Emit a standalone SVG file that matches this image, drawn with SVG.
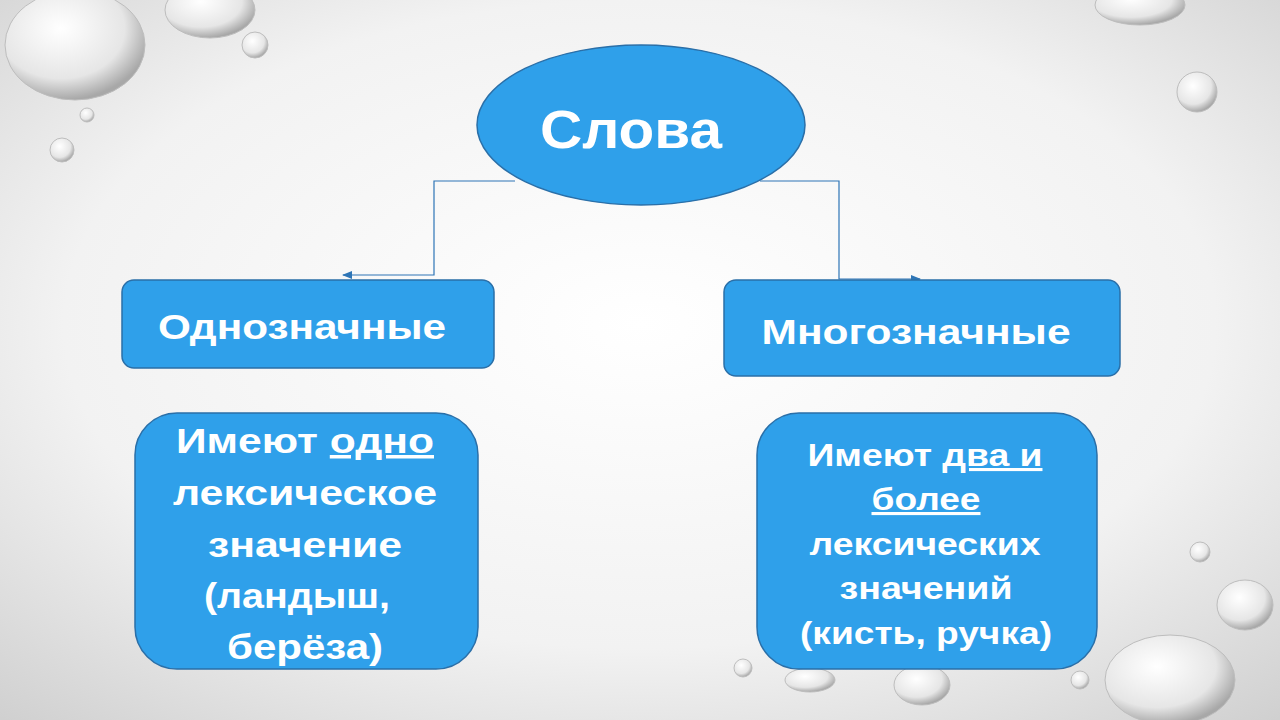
<svg xmlns="http://www.w3.org/2000/svg" width="1280" height="720" viewBox="0 0 1280 720">
<defs>
<radialGradient id="bg" cx="50%" cy="45%" r="75%"><stop offset="0" stop-color="#ffffff"/><stop offset="0.6" stop-color="#f2f2f2"/><stop offset="1" stop-color="#cfcfcf"/></radialGradient>
<radialGradient id="drop" cx="40%" cy="35%" r="65%"><stop offset="0" stop-color="#ffffff"/><stop offset="0.7" stop-color="#e6e6e6"/><stop offset="1" stop-color="#a8a8a8"/></radialGradient>
<marker id="ah" markerWidth="10" markerHeight="8" refX="9" refY="4" orient="auto" markerUnits="userSpaceOnUse"><path d="M0,0 L10,4 L0,8 z" fill="#2e75b6"/></marker>
<style>
.n{fill:#2fa0ea;stroke:#2a6fa8;stroke-width:1.5}
.t{fill:#fff;font-family:"Liberation Sans",Arial,sans-serif;font-weight:bold;text-anchor:middle}
.c{fill:none;stroke:#2e75b6;stroke-width:1.2}
.d{fill:url(#drop);stroke:#bdbdbd;stroke-width:1}
</style>
</defs>
<rect width="1280" height="720" fill="url(#bg)"/>
<g id="drops">
<ellipse class="d" cx="75" cy="45" rx="70" ry="55"/>
<ellipse class="d" cx="210" cy="10" rx="45" ry="28"/>
<circle class="d" cx="255" cy="45" r="13"/>
<circle class="d" cx="87" cy="115" r="7"/>
<circle class="d" cx="62" cy="150" r="12"/>
<ellipse class="d" cx="1140" cy="5" rx="45" ry="20"/>
<circle class="d" cx="1197" cy="92" r="20"/>
<circle class="d" cx="1200" cy="552" r="10"/>
<ellipse class="d" cx="1245" cy="605" rx="28" ry="25"/>
<ellipse class="d" cx="1170" cy="680" rx="65" ry="45"/>
<circle class="d" cx="1080" cy="680" r="9"/>
<circle class="d" cx="743" cy="668" r="9"/>
<ellipse class="d" cx="922" cy="685" rx="28" ry="20"/>
<ellipse class="d" cx="810" cy="680" rx="25" ry="12"/>
</g>
<g id="connectors">
<path class="c" d="M515,181 H434 V275 H343" marker-end="url(#ah)"/>
<path class="c" d="M760,181 H839 V279 H920" marker-end="url(#ah)"/>
</g>
<g id="slova"><ellipse class="n" cx="641" cy="125" rx="164" ry="80"/><text class="t" x="631" y="148" font-size="54" textLength="182" lengthAdjust="spacingAndGlyphs">Слова</text></g>
<g id="odno"><rect class="n" x="122" y="280" width="372" height="88" rx="12"/><text class="t" x="302" y="339" font-size="35" textLength="288" lengthAdjust="spacingAndGlyphs">Однозначные</text></g>
<g id="mnogo"><rect class="n" x="724" y="280" width="396" height="96" rx="12"/><text class="t" x="916" y="344" font-size="35" textLength="309" lengthAdjust="spacingAndGlyphs">Многозначные</text></g>
<g id="odno-desc"><rect class="n" x="135" y="413" width="343" height="256" rx="42"/>
<g class="t" font-size="35">
<text class="t" x="305" y="453" textLength="258" lengthAdjust="spacingAndGlyphs">Имеют <tspan text-decoration="underline">одно</tspan></text>
<text class="t" x="305" y="505" textLength="264" lengthAdjust="spacingAndGlyphs">лексическое</text>
<text class="t" x="305" y="557" textLength="194" lengthAdjust="spacingAndGlyphs">значение</text>
<text class="t" x="297" y="608" textLength="186" lengthAdjust="spacingAndGlyphs">(ландыш,</text>
<text class="t" x="305" y="659" textLength="156" lengthAdjust="spacingAndGlyphs">берёза)</text>
</g></g>
<g id="mnogo-desc"><rect class="n" x="757" y="413" width="340" height="256" rx="42"/>
<g class="t" font-size="31">
<text class="t" x="925" y="466" textLength="235" lengthAdjust="spacingAndGlyphs">Имеют <tspan text-decoration="underline">два и</tspan></text>
<text class="t" x="926" y="510" textLength="109" lengthAdjust="spacingAndGlyphs" text-decoration="underline">более</text>
<text class="t" x="925" y="555" textLength="231" lengthAdjust="spacingAndGlyphs">лексических</text>
<text class="t" x="926" y="599" textLength="173" lengthAdjust="spacingAndGlyphs">значений</text>
<text class="t" x="926" y="644" textLength="252" lengthAdjust="spacingAndGlyphs">(кисть, ручка)</text>
</g></g>
</svg>
